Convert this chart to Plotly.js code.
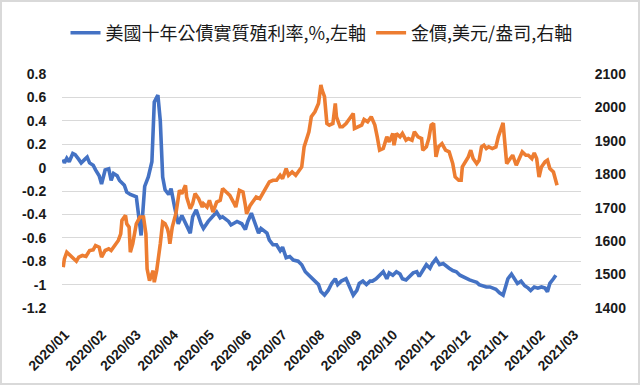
<!DOCTYPE html>
<html>
<head>
<meta charset="utf-8">
<script src="https://cdn.plot.ly/plotly-3.0.1.min.js"></script>
<style>
  html, body { margin: 0; padding: 0; background: #fff; }
  #wrap { position: relative; width: 640px; height: 385px; }
  #chart { width: 640px; height: 385px; }
  #frame { position: absolute; left: 0; top: 0; width: 640px; height: 385px; box-sizing: border-box; border: 2px solid #d9d9d9; pointer-events: none; }
</style>
</head>
<body>
<div id="wrap"><div id="chart"></div><div id="frame"></div></div>
<script>
const blueName = '美國十年公債實質殖利率,%,左軸';
const goldName = '金價,美元/盎司,右軸';

const blueDates = ['2020-01-02','2020-01-03','2020-01-05','2020-01-07','2020-01-10','2020-01-12','2020-01-15','2020-01-17','2020-01-20','2020-01-22','2020-01-24','2020-01-27','2020-01-29','2020-02-01','2020-02-03','2020-02-06','2020-02-09','2020-02-11','2020-02-13','2020-02-16','2020-02-18','2020-02-22','2020-02-24','2020-02-27','2020-03-03','2020-03-05','2020-03-07','2020-03-10','2020-03-13','2020-03-16','2020-03-17','2020-03-18','2020-03-21','2020-03-23','2020-03-25','2020-03-27','2020-03-30','2020-04-01','2020-04-04','2020-04-07','2020-04-10','2020-04-13','2020-04-17','2020-04-19','2020-04-22','2020-04-26','2020-04-28','2020-05-02','2020-05-06','2020-05-09','2020-05-12','2020-05-14','2020-05-19','2020-05-21','2020-05-26','2020-05-30','2020-06-02','2020-06-04','2020-06-07','2020-06-10','2020-06-13','2020-06-15','2020-06-20','2020-06-22','2020-06-25','2020-06-28','2020-07-01','2020-07-03','2020-07-06','2020-07-09','2020-07-12','2020-07-16','2020-07-19','2020-07-22','2020-07-24','2020-07-27','2020-07-30','2020-08-02','2020-08-04','2020-08-07','2020-08-10','2020-08-13','2020-08-16','2020-08-18','2020-08-21','2020-08-25','2020-08-28','2020-08-31','2020-09-03','2020-09-05','2020-09-08','2020-09-11','2020-09-14','2020-09-16','2020-09-19','2020-09-22','2020-09-25','2020-09-28','2020-09-30','2020-10-03','2020-10-06','2020-10-09','2020-10-11','2020-10-14','2020-10-17','2020-10-20','2020-10-23','2020-10-25','2020-10-28','2020-10-31','2020-11-03','2020-11-05','2020-11-08','2020-11-11','2020-11-14','2020-11-17','2020-11-19','2020-11-22','2020-11-25','2020-11-28','2020-11-30','2020-12-03','2020-12-06','2020-12-09','2020-12-12','2020-12-14','2020-12-17','2020-12-20','2020-12-23','2020-12-25','2020-12-28','2020-12-31','2021-01-03','2021-01-05','2021-01-07','2021-01-10','2021-01-13','2021-01-15','2021-01-18','2021-01-21','2021-01-24','2021-01-26','2021-01-29','2021-02-01','2021-02-04','2021-02-07','2021-02-09','2021-02-11','2021-02-14','2021-02-16'];
const blueValues = [0.07,0.04,0.08,0.05,0.12,0.11,0.07,0.04,0.07,0.09,0.04,0.02,-0.02,-0.07,-0.14,-0.02,-0.01,-0.11,-0.05,-0.07,-0.11,-0.15,-0.21,-0.23,-0.25,-0.40,-0.58,-0.16,-0.08,0.05,0.40,0.56,0.62,0.40,-0.08,-0.19,-0.23,-0.18,-0.34,-0.48,-0.41,-0.48,-0.56,-0.42,-0.36,-0.48,-0.52,-0.46,-0.42,-0.38,-0.43,-0.42,-0.46,-0.49,-0.46,-0.48,-0.53,-0.46,-0.39,-0.48,-0.56,-0.52,-0.56,-0.62,-0.66,-0.66,-0.71,-0.68,-0.77,-0.76,-0.79,-0.80,-0.83,-0.89,-0.91,-0.93,-0.97,-1.00,-1.06,-1.09,-1.05,-0.99,-0.95,-1.00,-0.97,-0.95,-1.02,-1.09,-1.05,-0.99,-0.97,-1.00,-0.97,-0.97,-0.95,-0.92,-0.89,-0.95,-0.90,-0.92,-0.89,-0.91,-0.95,-0.96,-0.93,-0.90,-0.89,-0.93,-0.88,-0.83,-0.86,-0.82,-0.78,-0.83,-0.82,-0.85,-0.86,-0.88,-0.89,-0.92,-0.93,-0.95,-0.96,-0.97,-0.98,-1.00,-1.01,-1.02,-1.02,-1.03,-1.04,-1.07,-1.09,-1.02,-0.95,-0.91,-0.96,-0.99,-0.97,-1.01,-1.03,-1.05,-1.02,-1.03,-1.02,-1.03,-1.06,-0.99,-0.95,-0.92];

const goldDates = ['2020-01-02','2020-01-03','2020-01-05','2020-01-08','2020-01-10','2020-01-13','2020-01-15','2020-01-18','2020-01-21','2020-01-24','2020-01-27','2020-01-29','2020-02-01','2020-02-03','2020-02-06','2020-02-09','2020-02-11','2020-02-14','2020-02-17','2020-02-19','2020-02-20','2020-02-23','2020-02-24','2020-02-26','2020-02-27','2020-02-29','2020-03-03','2020-03-06','2020-03-09','2020-03-11','2020-03-12','2020-03-14','2020-03-17','2020-03-18','2020-03-20','2020-03-23','2020-03-25','2020-03-27','2020-03-29','2020-03-30','2020-03-31','2020-04-02','2020-04-05','2020-04-08','2020-04-10','2020-04-13','2020-04-14','2020-04-17','2020-04-19','2020-04-21','2020-04-24','2020-04-27','2020-04-28','2020-05-01','2020-05-03','2020-05-06','2020-05-09','2020-05-12','2020-05-14','2020-05-17','2020-05-20','2020-05-23','2020-05-25','2020-05-28','2020-05-31','2020-06-02','2020-06-03','2020-06-06','2020-06-08','2020-06-11','2020-06-14','2020-06-17','2020-06-20','2020-06-22','2020-06-25','2020-06-28','2020-07-01','2020-07-03','2020-07-06','2020-07-08','2020-07-11','2020-07-14','2020-07-17','2020-07-19','2020-07-21','2020-07-23','2020-07-25','2020-07-27','2020-07-30','2020-08-02','2020-08-04','2020-08-05','2020-08-07','2020-08-09','2020-08-11','2020-08-14','2020-08-16','2020-08-17','2020-08-20','2020-08-22','2020-08-25','2020-08-28','2020-08-31','2020-09-01','2020-09-04','2020-09-07','2020-09-09','2020-09-12','2020-09-15','2020-09-18','2020-09-20','2020-09-22','2020-09-25','2020-09-28','2020-09-30','2020-10-03','2020-10-04','2020-10-06','2020-10-09','2020-10-11','2020-10-14','2020-10-16','2020-10-19','2020-10-21','2020-10-24','2020-10-27','2020-10-28','2020-10-31','2020-11-02','2020-11-04','2020-11-06','2020-11-08','2020-11-10','2020-11-13','2020-11-16','2020-11-19','2020-11-22','2020-11-24','2020-11-27','2020-11-29','2020-11-30','2020-12-03','2020-12-05','2020-12-07','2020-12-09','2020-12-12','2020-12-14','2020-12-16','2020-12-18','2020-12-20','2020-12-22','2020-12-25','2020-12-28','2020-12-30','2021-01-01','2021-01-03','2021-01-04','2021-01-06','2021-01-09','2021-01-11','2021-01-14','2021-01-16','2021-01-19','2021-01-22','2021-01-24','2021-01-27','2021-01-29','2021-01-31','2021-02-02','2021-02-04','2021-02-07','2021-02-09','2021-02-11','2021-02-14','2021-02-16','2021-02-17'];
const goldValues = [1522,1547,1567,1557,1550,1540,1552,1557,1554,1572,1574,1587,1582,1552,1572,1577,1572,1587,1602,1622,1662,1677,1652,1642,1567,1592,1652,1672,1672,1622,1517,1482,1512,1477,1512,1592,1657,1652,1637,1622,1592,1642,1682,1752,1742,1767,1732,1697,1712,1742,1727,1702,1712,1702,1722,1687,1717,1722,1757,1747,1737,1717,1702,1752,1747,1707,1682,1707,1717,1732,1727,1747,1762,1777,1782,1782,1797,1787,1817,1797,1807,1797,1812,1822,1882,1902,1927,1972,1987,2012,2067,2052,2032,1952,1947,1952,2012,1972,1942,1942,1952,1967,1982,1937,1942,1947,1964,1957,1972,1947,1912,1872,1877,1912,1897,1922,1887,1922,1912,1922,1902,1907,1902,1927,1912,1907,1872,1882,1907,1947,1952,1852,1882,1892,1872,1867,1832,1792,1782,1782,1822,1842,1852,1872,1847,1832,1842,1882,1887,1877,1882,1877,1882,1912,1937,1954,1912,1832,1847,1857,1827,1842,1867,1857,1857,1847,1864,1847,1792,1822,1837,1842,1817,1807,1777,1767];

const leftTickVals = [-1.2,-1,-0.8,-0.6,-0.4,-0.2,0,0.2,0.4,0.6,0.8];
const leftTickText = ['-1.2','-1','-0.8','-0.6','-0.4','-0.2','0','0.2','0.4','0.6','0.8'];
const rightTickVals = [1400,1500,1600,1700,1800,1900,2000,2100];
const xRange = ['2020-01-01','2021-03-09'];

const tickFont = {family: 'Liberation Sans, Arial, sans-serif', size: 14, weight: 'bold', color: '#1a1a1a'};

const traces = [
  {x: blueDates, y: blueValues, name: blueName, type: 'scatter', mode: 'lines',
   line: {color: '#4472C4', width: 3.6}, xaxis: 'x', yaxis: 'y'},
  {x: goldDates, y: goldValues, name: goldName, type: 'scatter', mode: 'lines',
   line: {color: '#ED7D31', width: 3.6}, xaxis: 'x', yaxis: 'y2'}
];

const layout = {
  width: 640, height: 385,
  margin: {l: 62, r: 59, t: 74, b: 77, pad: 0, autoexpand: false},
  paper_bgcolor: '#ffffff', plot_bgcolor: '#ffffff',
  showlegend: true,
  legend: {orientation: 'h', x: 0.5, xanchor: 'center', y: 1.175, yanchor: 'middle',
           font: {family: 'Noto Sans CJK TC, sans-serif', size: 18, color: '#1a1a1a'},
           itemwidth: 30, traceorder: 'normal'},
  xaxis: {type: 'date', range: xRange, showgrid: false, zeroline: false, showline: false,
          dtick: 'M1', tick0: '2020-01-01', tickformat: '%Y/%m', tickangle: -45,
          ticks: 'outside', ticklen: 12, tickcolor: 'rgba(0,0,0,0)', ticklabelshift: 3,
          tickfont: {family: 'Liberation Sans, Arial, sans-serif', size: 14, weight: 'bold', color: '#1a1a1a'}},
  xaxis2: {type: 'date', range: xRange, overlaying: 'x', anchor: 'free', position: 0.6,
           showgrid: false, zeroline: false, showline: true, linecolor: '#d0d0d0', linewidth: 1,
           dtick: 'M1', tick0: '2020-01-01', ticks: 'outside', ticklen: 5, tickcolor: '#c8c8c8',
           showticklabels: false, layer: 'below traces'},
  yaxis: {range: [-1.2, 0.8], tickvals: leftTickVals, ticktext: leftTickText,
          showgrid: true, gridcolor: '#d9d9d9', gridwidth: 1, zeroline: false, showline: false,
          ticks: 'outside', ticklen: 12, tickcolor: 'rgba(0,0,0,0)', tickfont: tickFont},
  yaxis2: {range: [1400, 2100], tickvals: rightTickVals, overlaying: 'y', side: 'right',
           showgrid: false, zeroline: false, showline: false,
           ticks: 'outside', ticklen: 10, tickcolor: 'rgba(0,0,0,0)', tickfont: tickFont}
};

Plotly.newPlot('chart', traces, layout, {displayModeBar: false, responsive: false});
</script>
</body>
</html>
